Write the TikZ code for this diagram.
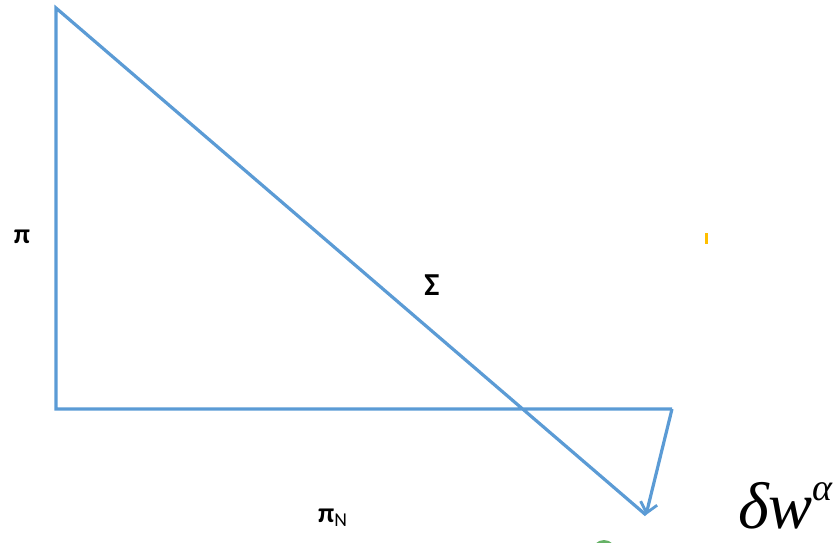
\documentclass[tikz,border=0pt]{standalone}
\usepackage{fontspec}
\setmainfont{Carlito}
\newfontfamily\serifit[ItalicFont={Liberation Serif Italic}]{Liberation Serif}
\usetikzlibrary{arrows.meta}
\definecolor{vecblue}{HTML}{5B9BD5}
\begin{document}
\begin{tikzpicture}[
			x=1pt,
			y=-1pt,
			vec/.style={vecblue, line width=3.2pt},
			sym label/.style={font=\fontsize{28}{30}\selectfont\bfseries, inner sep=0pt}
		]
		\useasboundingbox (0,0) rectangle (839,542);
		\coordinate (top) at (56,8);
		\coordinate (corner) at (56,409);
		\coordinate (right) at (672,409);
		\coordinate (tip) at (646,515);

		\draw[vec, line join=miter] (tip) -- (top) -- (corner) -- (right);
		\draw[vec, -{Straight Barb[length=10pt, width=17pt, line width=2.8pt]}] (right) -- (tip);

		\node[sym label] (pi) at (22,237) {π};
		\node[sym label, font=\fontsize{32}{34}\selectfont\bfseries] (sigma) at (432,285) {Σ};
		\node[sym label, anchor=base west] (piN) at (318,522) {π\textsubscript{\mdseries N}};
		\node[anchor=base west, inner sep=0pt, font=\fontsize{66}{70}\selectfont\serifit\itshape] (dw) at (738,528) {δw\raisebox{0.42em}{\fontsize{38}{40}\selectfont α}};

		% stray marks
		\fill[orange!50!yellow] (705,233) rectangle (708,244);
		\fill[green!50!black!60] (604,552) circle (12);
	\end{tikzpicture}
\end{document}
